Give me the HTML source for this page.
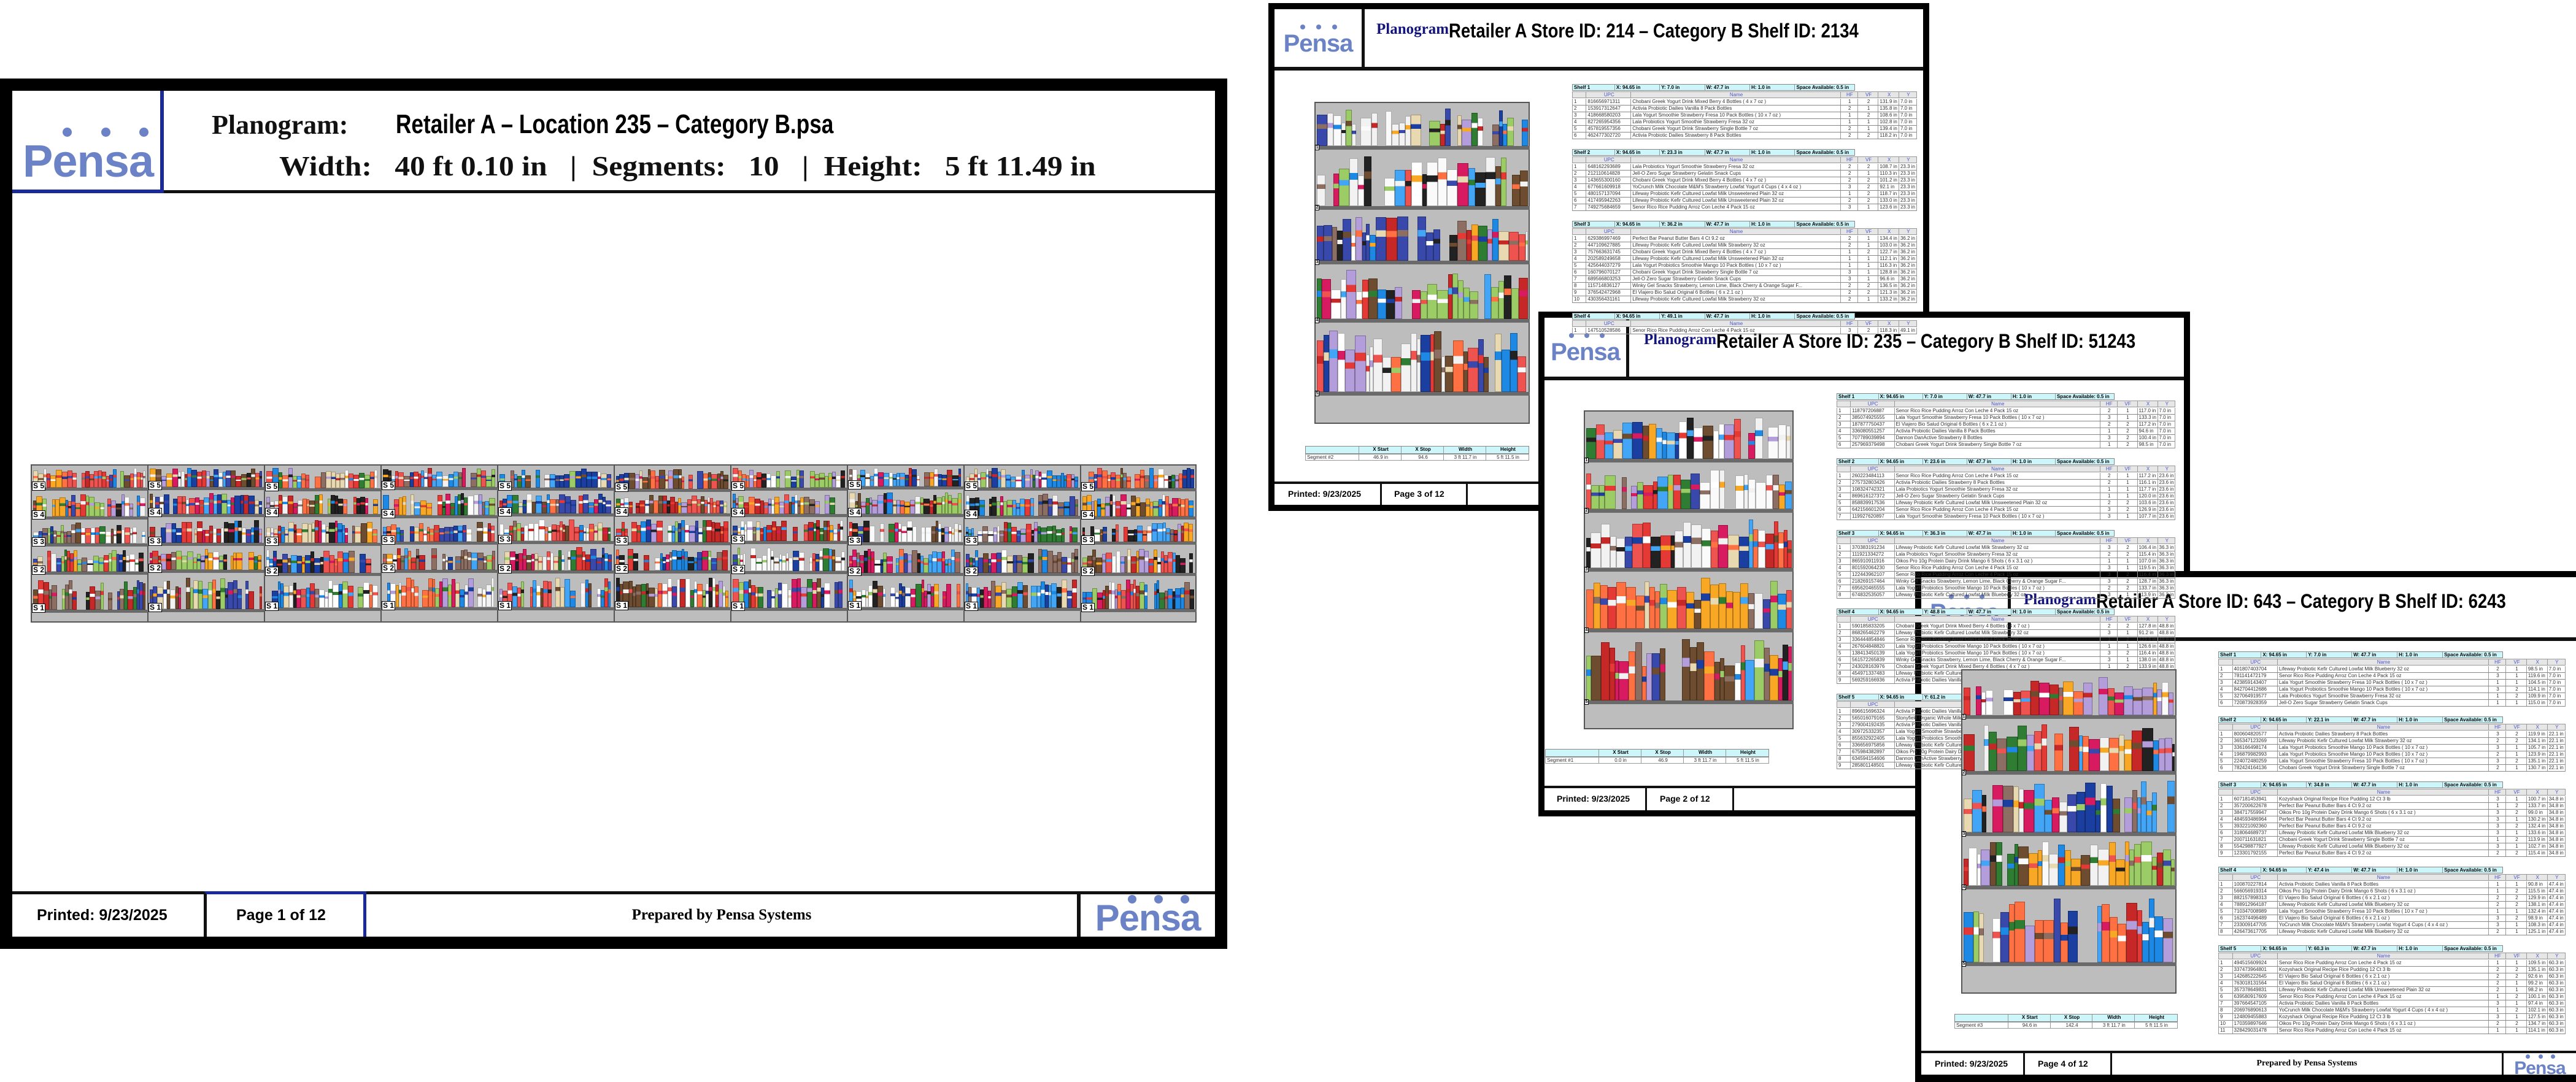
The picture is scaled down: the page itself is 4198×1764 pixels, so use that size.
<!DOCTYPE html>
<html><head><meta charset="utf-8">
<style>
*{box-sizing:border-box;margin:0;padding:0}
body{width:4198px;height:1764px;background:#fff;position:relative;overflow:hidden;font-family:"Liberation Sans",sans-serif}
.a{position:absolute}
.page{position:absolute;background:#fff;border:solid #000}
.logo{position:absolute;color:#6b83c6;font-family:"Liberation Sans",sans-serif;font-weight:bold;text-align:center;letter-spacing:-1px}
.dots{position:absolute;display:flex;justify-content:space-between}
.dots i{display:block;border-radius:50%;background:#6b83c6}
.serif{font-family:"Liberation Serif",serif;font-weight:bold}
.cond{font-family:"Liberation Sans",sans-serif;font-weight:bold;transform-origin:0 0;white-space:nowrap}
.tbl{position:absolute;font-family:"Liberation Sans",sans-serif;color:#333}
.tbl .r{display:flex;height:11px;border-bottom:1px solid #888;font-size:8px;line-height:10px;white-space:nowrap;overflow:hidden}
.tbl .r span{overflow:hidden;border-right:1px solid #999;padding-left:2px}
.tbl .h1{background:#cdf6fa;font-weight:bold;color:#000;border:1px solid #888}
.tbl .h2{background:#e6e6e6;color:#4b55c8;text-align:center}
</style></head><body>

<!-- BIG PAGE -->
<div class="page" style="left:0;top:128px;width:2000px;height:1419px;border-width:20px">
  <div class="a" style="left:0;top:0;width:247px;height:167px;border-right:6px solid #1a2a9a;border-bottom:6px solid #1a2a9a"></div>
  <div class="a" style="left:247px;top:162px;width:1713px;height:5px;background:#111"></div>
  <div class="dots" style="left:82px;top:60px;width:140px"><i style="width:15px;height:15px"></i><i style="width:15px;height:15px"></i><i style="width:15px;height:15px"></i></div>
  <div class="logo" style="left:0;top:72px;width:247px;font-size:74px">Pensa</div>
  <div class="a serif" style="left:325px;top:30px;font-size:44px;color:#111">Planogram:</div>
  <div class="a cond" style="left:625px;top:30px;font-size:44px;transform:scaleX(0.8)">Retailer A – Location 235 – Category B.psa</div>
  <div class="a serif" style="left:435px;top:96px;font-size:46px;color:#111;white-space:pre;transform:scaleX(1.08);transform-origin:0 0">Width:   40 ft 0.10 in   |  Segments:   10   |  Height:   5 ft 11.49 in</div>

  <!-- footer -->
  <div class="a" style="left:0;top:1305px;width:1960px;height:5px;background:#111"></div>
  <div class="a" style="left:312px;top:1305px;width:265px;height:74px;border-left:5px solid #111;border-right:5px solid #1a2a9a;border-top:5px solid #1a2a9a"></div>
  <div class="a" style="left:1735px;top:1305px;width:6px;height:74px;background:#111"></div>
  <div class="a" style="left:40px;top:1330px;font-size:25px;font-weight:bold">Printed: 9/23/2025</div>
  <div class="a" style="left:365px;top:1330px;font-size:25px;font-weight:bold">Page 1 of 12</div>
  <div class="a serif" style="left:577px;top:1330px;width:1158px;text-align:center;font-size:25px">Prepared by Pensa Systems</div>
  <div class="dots" style="left:1818px;top:1311px;width:100px"><i style="width:14px;height:14px"></i><i style="width:14px;height:14px"></i><i style="width:14px;height:14px"></i></div>
  <div class="logo" style="left:1741px;top:1314px;width:219px;font-size:60px">Pensa</div>
</div>
<div id="big" class="a" style="left:50px;top:757px;width:1900px;height:258px"></div>

<!-- PAGE 3 -->
<div class="page" style="left:2067px;top:5px;width:1077px;height:828px;border-width:10px">
  <div class="a" style="left:0;top:0;width:147px;height:100px;border-right:5px solid #111"></div>
  <div class="a" style="left:0;top:94px;width:1057px;height:6px;background:#111"></div>
  <div class="dots" style="left:42px;top:25px;width:60px"><i style="width:8px;height:8px"></i><i style="width:8px;height:8px"></i><i style="width:8px;height:8px"></i></div>
  <div class="logo" style="left:0;top:34px;width:142px;font-size:40px">Pensa</div>
  <div class="a serif" style="left:166px;top:19px;font-size:25px;color:#14147f">Planogram:</div>
  <div class="a cond" style="left:284px;top:17px;font-size:32px;transform:scaleX(0.86)">Retailer A Store ID: 214 – Category B Shelf ID: 2134</div>
  <div class="a" style="left:0;top:770px;width:1057px;height:4px;background:#111"></div>
  <div class="a" style="left:172px;top:770px;width:143px;height:38px;border-left:3px solid #111;border-right:3px solid #111"></div>
  <div class="a" style="left:22px;top:782px;font-size:14px;font-weight:bold">Printed: 9/23/2025</div>
  <div class="a" style="left:195px;top:782px;font-size:14px;font-weight:bold">Page 3 of 12</div>
</div>

<!-- PAGE 2 -->
<div class="page" style="left:2507px;top:508px;width:1062px;height:823px;border-width:10px">
  <div class="a" style="left:0;top:0;width:138px;height:100px;border-right:5px solid #111"></div>
  <div class="a" style="left:0;top:96px;width:1042px;height:6px;background:#111"></div>
  <div class="dots" style="left:40px;top:25px;width:58px"><i style="width:8px;height:8px"></i><i style="width:8px;height:8px"></i><i style="width:8px;height:8px"></i></div>
  <div class="logo" style="left:0;top:34px;width:133px;font-size:40px">Pensa</div>
  <div class="a serif" style="left:162px;top:22px;font-size:25px;color:#14147f">Planogram:</div>
  <div class="a cond" style="left:280px;top:20px;font-size:32px;transform:scaleX(0.86)">Retailer A Store ID: 235 – Category B Shelf ID: 51243</div>
  <div class="a" style="left:0;top:763px;width:1042px;height:4px;background:#111"></div>
  <div class="a" style="left:164px;top:763px;width:145px;height:40px;border-left:3px solid #111;border-right:3px solid #111"></div>
  <div class="a" style="left:20px;top:776px;font-size:14px;font-weight:bold">Printed: 9/23/2025</div>
  <div class="a" style="left:188px;top:776px;font-size:14px;font-weight:bold">Page 2 of 12</div>
  <div class="a serif" style="left:850px;top:776px;font-size:14px">Prepared by Pensa Systems</div>
</div>

<!-- PAGE 4 -->
<div class="page" style="left:3121px;top:931px;width:1077px;height:833px;border-width:10px 0 12px 10px">
  <div class="a" style="left:0;top:0;width:146px;height:100px;border-right:5px solid #111"></div>
  <div class="a" style="left:0;top:98px;width:1067px;height:6px;background:#111"></div>
  <div class="dots" style="left:45px;top:28px;width:58px"><i style="width:8px;height:8px"></i><i style="width:8px;height:8px"></i><i style="width:8px;height:8px"></i></div>
  <div class="logo" style="left:0;top:36px;width:141px;font-size:40px">Pensa</div>
  <div class="a serif" style="left:167px;top:23px;font-size:25px;color:#14147f">Planogram:</div>
  <div class="a cond" style="left:285px;top:21px;font-size:32px;transform:scaleX(0.86)">Retailer A Store ID: 643 – Category B Shelf ID: 6243</div>
  <div class="a" style="left:0;top:772px;width:1067px;height:4px;background:#111"></div>
  <div class="a" style="left:166px;top:772px;width:145px;height:39px;border-left:3px solid #111;border-right:3px solid #111"></div>
  <div class="a" style="left:946px;top:772px;width:3px;height:39px;background:#111"></div>
  <div class="a" style="left:22px;top:785px;font-size:14px;font-weight:bold">Printed: 9/23/2025</div>
  <div class="a" style="left:190px;top:785px;font-size:14px;font-weight:bold">Page 4 of 12</div>
  <div class="a serif" style="left:311px;top:785px;width:635px;text-align:center;font-size:14px">Prepared by Pensa Systems</div>
  <div class="dots" style="left:985px;top:778px;width:48px"><i style="width:7px;height:7px"></i><i style="width:7px;height:7px"></i><i style="width:7px;height:7px"></i></div>
  <div class="logo" style="left:949px;top:784px;width:118px;font-size:30px">Pensa</div>
</div>

<div id="layer" class="a" style="left:0;top:0;width:4198px;height:1764px;pointer-events:none"></div>

<script>
var seed=12345;function rnd(){seed=(seed*1103515245+12345)&0x7fffffff;return seed/0x7fffffff;}
var pal=['#c62828','#1a3fa0','#f2f2f2','#e8d9b0','#6d4c2f','#2e7d32','#f9a825','#d81b60','#3949ab','#8d6e63','#ffffff','#ef5350','#42a5f5','#9ccc65','#ff7043','#222','#b39ddb','#e53935','#fafafa','#1e88e5'];
var fr=[0.146,0.32,0.495,0.676,0.909];
function plano(host,W,H,nseg,labelBig,z){
  var segW=W/nseg,out='';
  out+='<div class="a" style="left:0;top:0;width:'+W+'px;height:'+H+'px;background:#bdbdbd;border:2px solid #555;z-index:'+z+'"></div>';
  for(var s=0;s<nseg;s++){
    var x0=s*segW;
    if(s>0)out+='<div class="a" style="left:'+x0+'px;top:0;width:2px;height:'+H+'px;background:#555;z-index:'+(z+1)+'"></div>';
    var prev=2;
    for(var k=0;k<5;k++){
      var sy=Math.round(fr[k]*H+(rnd()-0.5)*H*0.02);
      var gap=sy-prev;
      var px=x0+4;
      var base=pal[Math.floor(rnd()*pal.length)];
      while(px<x0+segW-6){
        var pw=Math.round((labelBig?4:6)+rnd()*(labelBig?6:12));
        if(px+pw>x0+segW-3)pw=x0+segW-3-px;
        if(rnd()<0.06){px+=pw;continue;}
        var ph=Math.round(gap*(0.5+rnd()*0.4));
        var c=rnd()<0.5?base:pal[Math.floor(rnd()*pal.length)];
        if(rnd()<0.15)base=pal[Math.floor(rnd()*pal.length)];
        var c2=pal[Math.floor(rnd()*pal.length)];
        out+='<div class="a" style="left:'+px+'px;top:'+(sy-ph)+'px;width:'+pw+'px;height:'+ph+'px;background:linear-gradient('+c+' 0 30%,'+c2+' 30% 45%,'+c+' 45% 100%);border:1px solid rgba(0,0,0,.3);z-index:'+(z+1)+'"></div>';
        px+=pw;
      }
      out+='<div class="a" style="left:'+x0+'px;top:'+sy+'px;width:'+segW+'px;height:'+(labelBig?5:6)+'px;background:#6a6a6a;z-index:'+(z+2)+'"></div>';
      if(labelBig)out+='<div class="a" style="left:'+(x0+2)+'px;top:'+(sy-10)+'px;width:22px;height:15px;background:#fff;border:1px solid #000;font:bold 12px/13px \'Liberation Sans\',sans-serif;text-align:center;z-index:'+(z+3)+'">S '+(5-k)+'</div>';
      else out+='<div class="a" style="left:'+(x0+1)+'px;top:'+(sy-2)+'px;width:7px;height:9px;background:#fff;border:1px solid #000;font:bold 7px/7px \'Liberation Sans\',sans-serif;text-align:center;z-index:'+(z+3)+'">'+(k+1)+'</div>';
      prev=sy+6;
    }
  }
  host.innerHTML+=out;
}
function box(x,y,w,h,z){var d=document.createElement('div');d.className='a';d.style.cssText='left:'+x+'px;top:'+y+'px;width:'+w+'px;height:'+h+'px;z-index:'+z;document.getElementById('layer').appendChild(d);return d;}
plano(document.getElementById('big'),1900,258,10,true,1);
plano(box(2142,166,351,525,10),351,525,1,false,10);
plano(box(2581,669,342,520,30),342,520,1,false,30);
plano(box(3196,1091,351,529,50),351,529,1,false,50);

var names=['Lala Yogurt Probiotics Smoothie Mango 10 Pack Bottles ( 10 x 7 oz )','Lala Yogurt Smoothie Strawberry Fresa 10 Pack Bottles ( 10 x 7 oz )','Lala Probiotics Yogurt Smoothie Strawberry Fresa 32 oz','Lifeway Probiotic Kefir Cultured Lowfat Milk Unsweetened Plain 32 oz','Lifeway Probiotic Kefir Cultured Lowfat Milk Strawberry 32 oz','Lifeway Probiotic Kefir Cultured Lowfat Milk Blueberry 32 oz','Activia Probiotic Dailies Vanilla 8 Pack Bottles','Activia Probiotic Dailies Strawberry 8 Pack Bottles','Chobani Greek Yogurt Drink Strawberry Single Bottle 7 oz','Chobani Greek Yogurt Drink Mixed Berry 4 Bottles ( 4 x 7 oz )','Oikos Pro 10g Protein Dairy Drink Mango 6 Shots ( 6 x 3.1 oz )','Dannon DanActive Strawberry 8 Bottles','Senor Rico Rice Pudding Arroz Con Leche 4 Pack 15 oz','El Viajero Bio Salud Original 6 Bottles ( 6 x 2.1 oz )','Kozyshack Original Recipe Rice Pudding 12 Ct 3 lb','Winky Gel Snacks Strawberry, Lemon Lime, Black Cherry &amp; Orange Sugar F...','Perfect Bar Peanut Butter Bars 4 Ct 9.2 oz','Stonyfield Organic Whole Milk Vanilla Single Pouch 3.5 oz','Jell-O Zero Sugar Strawberry Gelatin Snack Cups','YoCrunch Milk Chocolate M&amp;M\'s Strawberry Lowfat Yogurt 4 Cups ( 4 x 4 oz )'];
function table(x,y,w,blocks,z,yvals){
  var h='';var cy=0;
  blocks.forEach(function(n,bi){
    h+='<div class="r h1" style="width:'+(w*0.82)+'px;position:absolute;top:'+cy+'px"><span style="width:15%">Shelf '+(bi+1)+'</span><span style="width:16%">X: 94.65 in</span><span style="width:16%">Y: '+yvals[bi]+' in</span><span style="width:16%">W: 47.7 in</span><span style="width:16%">H: 1.0 in</span><span style="width:21%;border:0">Space Available: 0.5 in</span></div>';
    cy+=12;
    h+='<div class="r h2" style="width:'+w+'px;position:absolute;top:'+cy+'px;border:1px solid #999"><span style="width:4%"></span><span style="width:13%">UPC</span><span style="width:61%">Name</span><span style="width:5%">HF</span><span style="width:6%">VF</span><span style="width:6%">X</span><span style="width:5%;border:0">Y</span></div>';
    cy+=12;
    for(var i=0;i<n;i++){
      var nm=names[Math.floor(rnd()*names.length)];
      var upc=String(Math.floor(100000000000+rnd()*800000000000));
      h+='<div class="r" style="width:'+w+'px;position:absolute;top:'+cy+'px;border-left:1px solid #999;border-right:1px solid #999"><span style="width:4%">'+(i+1)+'</span><span style="width:13%">'+upc+'</span><span style="width:61%">'+nm+'</span><span style="width:5%;text-align:center">'+(1+Math.floor(rnd()*3))+'</span><span style="width:6%;text-align:center">'+(1+Math.floor(rnd()*2))+'</span><span style="width:6%">'+(90+rnd()*50).toFixed(1)+' in</span><span style="width:5%;border:0">'+yvals[bi]+' in</span></div>';
      cy+=11;
    }
    cy+=16;
  });
  var d=box(x,y,w,cy,z);d.className='a tbl';d.innerHTML=h;
}
function segtbl(x,y,w,label,vals,z){
  var d=box(x,y,w,26,z);d.className='a tbl';
  d.innerHTML='<div class="r h1" style="width:'+w+'px;height:13px;font-size:8px"><span style="width:24%"></span><span style="width:19%;text-align:center">X Start</span><span style="width:19%;text-align:center">X Stop</span><span style="width:19%;text-align:center">Width</span><span style="width:19%;text-align:center;border:0">Height</span></div><div class="r" style="width:'+w+'px;border:1px solid #999"><span style="width:24%">'+label+'</span><span style="width:19%;text-align:center">'+vals[0]+'</span><span style="width:19%;text-align:center">'+vals[1]+'</span><span style="width:19%;text-align:center">3 ft 11.7 in</span><span style="width:19%;text-align:center;border:0">5 ft 11.5 in</span></div>';
}
table(2562,137,562,[6,7,10,1],12,['7.0','23.3','36.2','49.1']);
segtbl(2127,727,365,'Segment #2',['46.9 in','94.6'],12);
table(2993,641,552,[6,7,8,9,9],32,['7.0','23.6','36.3','48.8','61.2']);
segtbl(2518,1221,365,'Segment #1',['0.0 in','46.9'],32);
table(3615,1062,566,[6,6,9,8,11],52,['7.0','22.1','34.8','47.4','60.3']);
segtbl(3185,1653,364,'Segment #3',['94.6 in','142.4'],52);
</script>
</body></html>
